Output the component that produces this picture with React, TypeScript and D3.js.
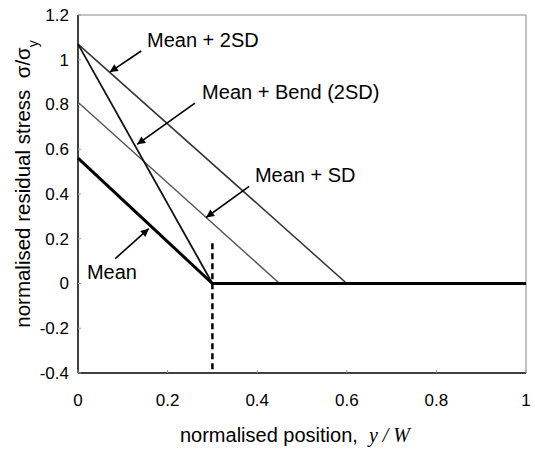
import * as d3 from "d3";
import { useEffect, useRef } from "react";

// stress profiles: x = y/W, value = sigma/sigma_y
const meanX = [0, 0.3, 1];
const meanY = [0.56, 0, 0];
const meanSdX = [0, 0.45, 1];
const meanSdY = [0.81, 0, 0];
const mean2SdX = [0, 0.6, 1];
const mean2SdY = [1.07, 0, 0];
const bendX = [0, 0.3];
const bendY = [1.07, 0];

const xTicks = [0, 0.2, 0.4, 0.6, 0.8, 1];
const yTicks = [-0.4, -0.2, 0, 0.2, 0.4, 0.6, 0.8, 1, 1.2];
const xTickLabels = ["0", "0.2", "0.4", "0.6", "0.8", "1"];
const yTickLabels = ["-0.4", "-0.2", "0", "0.2", "0.4", "0.6", "0.8", "1", "1.2"];

// dashed marker at y/W = 0.3
const cutX = 0.3;
const cutY = [0.18, -0.4];

// annotations (data units): label position, arrow tail, arrow tip
const labels = ["Mean + 2SD", "Mean + Bend (2SD)", "Mean + SD", "Mean"];
const labelPos = [[0.154, 1.057], [0.277, 0.824], [0.395, 0.452], [0.02, 0.021]];
const arrowTail = [[0.141, 1.039], [0.261, 0.806], [0.382, 0.434], [0.083, 0.111]];
const arrowTip = [[0.071, 0.945], [0.132, 0.622], [0.286, 0.295], [0.158, 0.245]];

const W = 535, H = 451;
const FONT = "'Liberation Sans', Arial, Helvetica, sans-serif";

const App = () => {
    const svgRef = useRef<SVGSVGElement | null>(null);

    useEffect(() => {
        const svg = d3.select(svgRef.current);
        svg.selectAll("*").remove();

        const x = d3.scaleLinear().domain([0, 1]).range([78, 526]);
        const y = d3.scaleLinear().domain([-0.4, 1.2]).range([373, 15]);

        svg.append("defs").append("marker")
            .attr("id", "head")
            .attr("viewBox", "0 0 10 10")
            .attr("refX", 10).attr("refY", 5)
            .attr("markerWidth", 10).attr("markerHeight", 8)
            .attr("markerUnits", "userSpaceOnUse")
            .attr("orient", "auto")
            .append("path").attr("d", "M0,0 L10,5 L0,10 z").attr("fill", "#000");

        // frame: top/right grey, left/bottom black
        svg.append("line").attr("x1", x(0)).attr("x2", x(1)).attr("y1", y(1.2)).attr("y2", y(1.2))
            .attr("stroke", "#888").attr("stroke-width", 1);
        svg.append("line").attr("x1", x(1)).attr("x2", x(1)).attr("y1", y(1.2)).attr("y2", y(-0.4))
            .attr("stroke", "#888").attr("stroke-width", 1);
        svg.append("line").attr("x1", x(0)).attr("x2", x(0)).attr("y1", y(1.2)).attr("y2", y(-0.4))
            .attr("stroke", "#000").attr("stroke-width", 1.5);
        svg.append("line").attr("x1", x(0)).attr("x2", x(1)).attr("y1", y(-0.4)).attr("y2", y(-0.4))
            .attr("stroke", "#000").attr("stroke-width", 1.5);

        // faint ticks
        svg.append("g").selectAll("line").data(yTicks).join("line")
            .attr("x1", x(0)).attr("x2", x(0) + 3).attr("y1", d => y(d)).attr("y2", d => y(d))
            .attr("stroke", "#999");
        svg.append("g").selectAll("line").data(xTicks).join("line")
            .attr("x1", d => x(d)).attr("x2", d => x(d)).attr("y1", y(-0.4)).attr("y2", y(-0.4) - 3)
            .attr("stroke", "#999");

        // tick labels
        svg.append("g").selectAll("text").data(yTicks).join("text")
            .attr("x", x(0) - 9).attr("y", d => y(d)).attr("dy", "0.35em")
            .attr("text-anchor", "end").style("font-family", FONT).style("font-size", "17px")
            .text((_, i) => yTickLabels[i]);
        svg.append("g").selectAll("text").data(xTicks).join("text")
            .attr("x", d => x(d)).attr("y", 406)
            .attr("text-anchor", "middle").style("font-family", FONT).style("font-size", "17px")
            .text((_, i) => xTickLabels[i]);

        const line = d3.line<[number, number]>().x(d => x(d[0])).y(d => y(d[1]));
        const series = [
            { xs: mean2SdX, ys: mean2SdY, color: "#333", w: 1.5 },
            { xs: meanSdX, ys: meanSdY, color: "#555", w: 1.4 },
            { xs: bendX, ys: bendY, color: "#111", w: 1.8 },
            { xs: meanX, ys: meanY, color: "#000", w: 3 },
        ];
        svg.append("g").selectAll("path").data(series).join("path")
            .attr("d", s => line(s.xs.map((v, i) => [v, s.ys[i]] as [number, number])))
            .attr("fill", "none").attr("stroke", s => s.color).attr("stroke-width", s => s.w)
            .attr("stroke-linejoin", "miter");

        // dashed marker
        svg.append("line")
            .attr("x1", x(cutX)).attr("x2", x(cutX)).attr("y1", y(cutY[0])).attr("y2", y(cutY[1]))
            .attr("stroke", "#000").attr("stroke-width", 2.5).attr("stroke-dasharray", "6,4");

        // annotations
        svg.append("g").selectAll("line").data(labels).join("line")
            .attr("x1", (_, i) => x(arrowTail[i][0])).attr("y1", (_, i) => y(arrowTail[i][1]))
            .attr("x2", (_, i) => x(arrowTip[i][0])).attr("y2", (_, i) => y(arrowTip[i][1]))
            .attr("stroke", "#000").attr("stroke-width", 1.6).attr("marker-end", "url(#head)");
        svg.append("g").selectAll("text").data(labels).join("text")
            .attr("x", (_, i) => x(labelPos[i][0])).attr("y", (_, i) => y(labelPos[i][1]))
            .style("font-family", FONT).style("font-size", "20px")
            .text(d => d);

        // axis titles
        const xt = svg.append("text").attr("x", 295).attr("y", 442).attr("text-anchor", "middle")
            .style("font-family", FONT).style("font-size", "20px").style("white-space", "pre");
        xt.append("tspan").text("normalised position,  ");
        xt.append("tspan").style("font-family", "'Liberation Serif', 'Times New Roman', serif")
            .style("font-style", "italic").text("y / W");

        const yt = svg.append("text").attr("transform", "translate(30,184) rotate(-90)")
            .attr("text-anchor", "middle").style("font-family", FONT).style("font-size", "20.5px")
            .style("white-space", "pre");
        yt.append("tspan").text("normalised residual stress  σ/σ");
        yt.append("tspan").attr("baseline-shift", "sub").style("font-size", "14px").text("y");
    }, []);

    return (
        <svg ref={svgRef} width={W} height={H}
            style={{ position: "absolute", left: 0, top: 0, background: "#fff" }} />
    );
};

export default App;
